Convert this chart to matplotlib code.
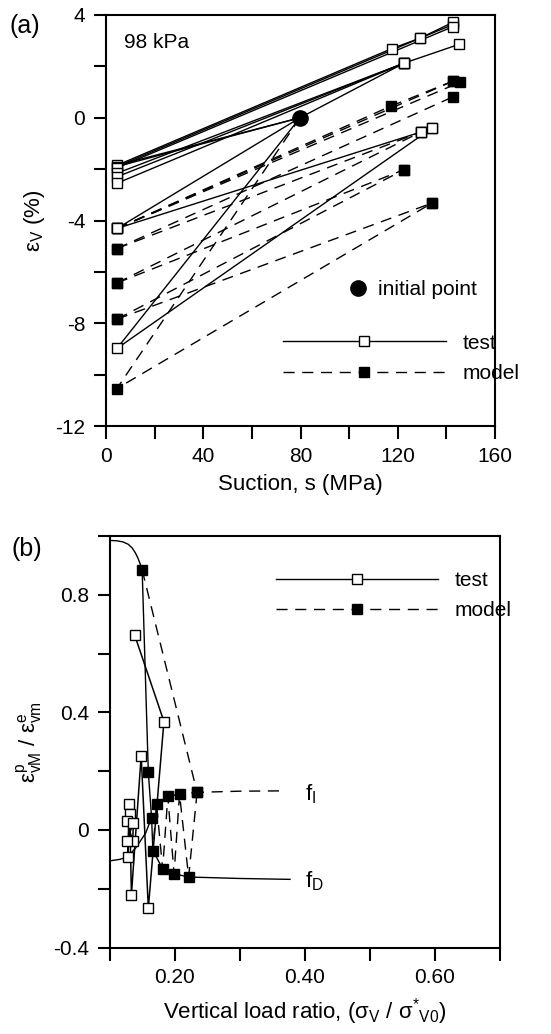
import numpy as np
import matplotlib
matplotlib.use("Agg")
import matplotlib.pyplot as plt
from matplotlib.lines import Line2D

plt.rcParams['font.family'] = ['Liberation Sans', 'DejaVu Sans']
plt.rcParams['mathtext.fontset'] = 'custom'
plt.rcParams['mathtext.rm'] = 'Liberation Sans'
plt.rcParams['mathtext.it'] = 'Liberation Sans'

# ---- panel (a): volumetric strain vs suction, 98 kPa ----
init_s = [79.8]
init_ev = [0.0]

# test paths (solid, open squares)
test1_s = [79.8, 4.5, 117.5, 129.2, 142.8]
test1_ev = [0.0, -1.85, 2.69, 3.10, 3.63]
test2_s = [79.8, 4.5, 129.2, 142.8]
test2_ev = [0.0, -1.90, 3.10, 3.72]
test3_s = [4.5, 142.8]
test3_ev = [-1.95, 3.55]
test4_s = [4.5, 122.7, 145.3]
test4_ev = [-2.16, 2.13, 2.86]
test5_s = [4.5, 122.7]
test5_ev = [-2.30, 2.13]
test6_s = [4.5, 122.7]
test6_ev = [-2.55, 2.13]
test7_s = [79.8, 122.7]
test7_ev = [0.0, 2.13]
test8_s = [79.8, 4.5, 129.4, 134.1]
test8_ev = [0.0, -4.31, -0.56, -0.40]
test9_s = [79.8, 4.5, 134.1]
test9_ev = [0.0, -8.98, -0.40]

# model paths (dashed, filled squares)
model1_s = [4.5, 117.1, 142.8]
model1_ev = [-4.31, 0.45, 1.43]
model2_s = [4.5, 142.8]
model2_ev = [-4.31, 1.43]
model3_s = [4.5, 145.6]
model3_ev = [-4.31, 1.38]
model4_s = [4.5, 142.6]
model4_ev = [-5.09, 0.81]
model5_s = [4.5, 129.4]
model5_ev = [-5.09, -0.56]
model6_s = [4.5, 129.4]
model6_ev = [-6.43, -0.56]
model7_s = [4.5, 122.6]
model7_ev = [-6.43, -2.02]
model8_s = [4.5, 122.6]
model8_ev = [-7.84, -2.02]
model9_s = [4.5, 134.1]
model9_ev = [-7.84, -3.32]
model10_s = [79.8, 4.5, 134.1]
model10_ev = [0.0, -10.54, -3.32]

test_paths_a = [(test1_s, test1_ev), (test2_s, test2_ev), (test3_s, test3_ev),
                (test4_s, test4_ev), (test5_s, test5_ev), (test6_s, test6_ev),
                (test7_s, test7_ev), (test8_s, test8_ev), (test9_s, test9_ev)]
model_paths_a = [(model1_s, model1_ev), (model2_s, model2_ev), (model3_s, model3_ev),
                 (model4_s, model4_ev), (model5_s, model5_ev), (model6_s, model6_ev),
                 (model7_s, model7_ev), (model8_s, model8_ev), (model9_s, model9_ev),
                 (model10_s, model10_ev)]

# ---- panel (b): plastic / elastic strain ratio vs vertical load ratio ----
test_b_x = [0.138, 0.183, 0.159, 0.148, 0.133, 0.130, 0.127, 0.131, 0.126, 0.135, 0.136, 0.126]
test_b_y = [0.663, 0.369, -0.266, 0.253, -0.220, 0.090, -0.092, 0.056, 0.031, -0.038, 0.025, -0.038]

fD_curve_x = [0.100, 0.110, 0.120, 0.128, 0.134, 0.139, 0.143, 0.1465, 0.1495]
fD_curve_y = [0.985, 0.984, 0.980, 0.972, 0.960, 0.943, 0.925, 0.905, 0.885]
fD_x = [0.1495, 0.159, 0.164, 0.166, 0.181, 0.1986, 0.221, 0.300, 0.377]
fD_y = [0.885, 0.196, 0.042, -0.070, -0.132, -0.149, -0.160, -0.165, -0.168]
fD_mark = [True, True, True, True, True, True, True, False, False]

fI_x = [0.1495, 0.234, 0.300, 0.365]
fI_y = [0.885, 0.128, 0.132, 0.133]
zig_x = [0.234, 0.221, 0.207, 0.1986, 0.189, 0.181, 0.1716, 0.166]
zig_y = [0.128, -0.160, 0.122, -0.149, 0.114, -0.132, 0.088, -0.070]
top_x = [0.1716, 0.189, 0.207, 0.234]
top_y = [0.088, 0.114, 0.122, 0.128]
low_x = [0.100, 0.115, 0.127, 0.140, 0.155, 0.164]
low_y = [-0.105, -0.100, -0.092, -0.060, -0.010, 0.042]

dash = (0, (8, 5.5))
fs = 15
lw = 1.0

fig = plt.figure(figsize=(5.51, 10.34), dpi=100)
ax1 = fig.add_axes([0.1924, 0.588, 0.706, 0.3975])
ax2 = fig.add_axes([0.1996, 0.0836, 0.7078, 0.398])


def style(ax):
    for sp in ax.spines.values():
        sp.set_linewidth(1.5)
    ax.tick_params(direction='out', length=9, width=1.5, labelsize=fs, pad=6,
                   top=False, right=False)


# panel (a)
for s, ev in model_paths_a:
    ax1.plot(s, ev, color='k', lw=lw, ls=dash, zorder=2)
for s, ev in test_paths_a:
    ax1.plot(s, ev, color='k', lw=lw, zorder=3)
for s, ev in model_paths_a:
    pts_s = s[1:] if s[0] == init_s[0] else s
    pts_e = ev[1:] if s[0] == init_s[0] else ev
    ax1.plot(pts_s, pts_e, ls='none', marker='s', ms=7, mfc='k', mec='k', zorder=4)
for s, ev in test_paths_a:
    pts_s = s[1:] if s[0] == init_s[0] else s
    pts_e = ev[1:] if s[0] == init_s[0] else ev
    ax1.plot(pts_s, pts_e, ls='none', marker='s', ms=7, mfc='white', mec='k', mew=1.0, zorder=5)
ax1.plot(init_s, init_ev, ls='none', marker='o', ms=11, color='k', zorder=6)

ax1.set_xlim(0, 160)
ax1.set_ylim(-12, 4)
ax1.set_xticks(np.arange(0, 161, 20))
ax1.set_xticklabels(['0', '', '40', '', '80', '', '120', '', '160'])
ax1.set_yticks(np.arange(-12, 4.1, 2))
ax1.set_yticklabels(['-12', '', '-8', '', '-4', '', '0', '', '4'])
style(ax1)
ax1.set_xlabel('Suction, s (MPa)', fontsize=16, labelpad=6)
ax1.set_ylabel('ε$_\\mathrm{V}$ (%)', fontsize=16, labelpad=6)
ax1.text(0.045, 0.955, '98 kPa', transform=ax1.transAxes, fontsize=fs, va='top')

h_init = Line2D([], [], ls='none', marker='o', ms=11, color='k')
leg0 = ax1.legend([h_init], ['initial point'], loc='upper left', bbox_to_anchor=(0.62, 0.355),
                  frameon=False, fontsize=fs, handlelength=1.0, handletextpad=0.5,
                  borderpad=0, borderaxespad=0)
ax1.add_artist(leg0)
h_test = Line2D([], [], color='k', lw=lw, marker='s', ms=7, mfc='white', mec='k')
h_model = Line2D([], [], color='k', lw=lw, ls=dash, marker='s', ms=7, mfc='k', mec='k')
ax1.legend([h_test, h_model], ['test', 'model'], loc='upper left', bbox_to_anchor=(0.455, 0.225),
           frameon=False, fontsize=fs, handlelength=7.8, handletextpad=0.8, numpoints=1,
           labelspacing=0.55, borderpad=0, borderaxespad=0)

fig.text(0.018, 0.975, '(a)', fontsize=18, va='center')

# panel (b)
ax2.plot(fD_curve_x, fD_curve_y, color='k', lw=lw, zorder=3)
ax2.plot(fD_x, fD_y, color='k', lw=lw, zorder=3)
ax2.plot(low_x, low_y, color='k', lw=lw, zorder=3)
ax2.plot(fI_x, fI_y, color='k', lw=lw, ls=dash, zorder=2)
ax2.plot(zig_x, zig_y, color='k', lw=lw, ls=dash, zorder=2)
ax2.plot(top_x, top_y, color='k', lw=lw, ls=dash, zorder=2)
ax2.plot(test_b_x, test_b_y, color='k', lw=1.1, marker='s', ms=7, mfc='white', mec='k', zorder=4)
mx = [x for x, m in zip(fD_x, fD_mark) if m] + top_x + [fI_x[1]]
my = [y for y, m in zip(fD_y, fD_mark) if m] + top_y + [fI_y[1]]
ax2.plot(mx, my, ls='none', marker='s', ms=7, mfc='k', mec='k', zorder=5)

ax2.set_xlim(0.1, 0.7)
ax2.set_ylim(-0.4, 1.0)
ax2.set_xticks(np.arange(0.1, 0.71, 0.1))
ax2.set_xticklabels(['', '0.20', '', '0.40', '', '0.60', ''])
ax2.set_yticks(np.arange(-0.4, 1.01, 0.2))
ax2.set_yticklabels(['-0.4', '', '0', '', '0.4', '', '0.8', ''])
style(ax2)
ax2.set_xlabel('Vertical load ratio, (σ$_\\mathrm{V}$ / σ$^{*}$$_\\mathrm{V0}$)', fontsize=16, labelpad=6)
ax2.set_ylabel('ε$^\\mathrm{p}_\\mathrm{vM}$ / ε$^\\mathrm{e}_\\mathrm{vm}$', fontsize=16, labelpad=6)
ax2.text(0.40, 0.10, 'f$_\\mathrm{I}$', fontsize=16)
ax2.text(0.40, -0.195, 'f$_\\mathrm{D}$', fontsize=16)

ax2.legend([h_test, h_model], ['test', 'model'], loc='upper left', bbox_to_anchor=(0.425, 0.915),
           frameon=False, fontsize=fs, handlelength=7.8, handletextpad=0.8, numpoints=1,
           labelspacing=0.55, borderpad=0, borderaxespad=0)
fig.text(0.02, 0.469, '(b)', fontsize=18, va='center')

fig.savefig('out.png', dpi=100)
